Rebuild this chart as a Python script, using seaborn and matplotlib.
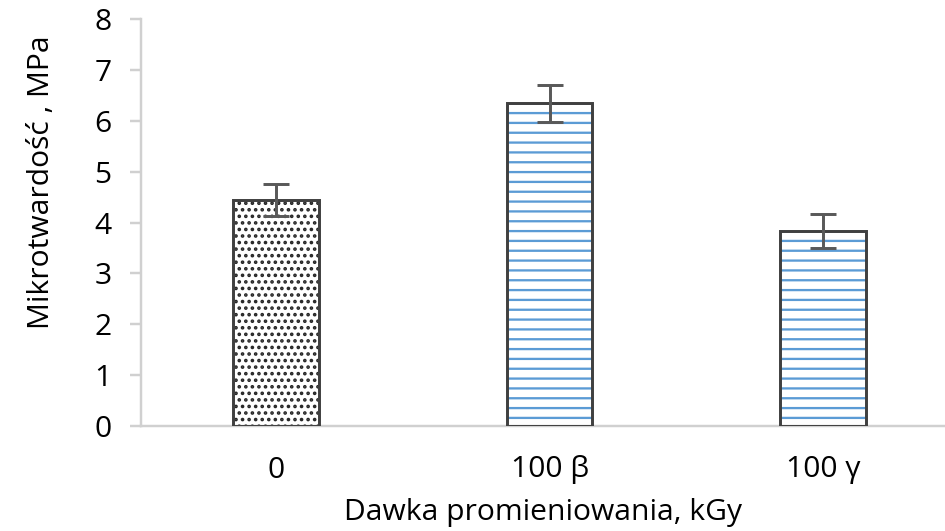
import matplotlib
matplotlib.use("Agg")
import matplotlib.pyplot as plt
import seaborn as sns
import pandas as pd
import numpy as np

categories = ["0", "100 β", "100 γ"]
values = [4.44, 6.34, 3.83]
errors = [0.31, 0.36, 0.33]
y_ticks = [0, 1, 2, 3, 4, 5, 6, 7, 8]
xlabel = "Dawka promieniowania, kGy"
ylabel = "Mikrotwardość , MPa"

hatches = ["...", "--", "--"]
hatch_colors = ["#262626", "#5B9BD5", "#5B9BD5"]

sns.set_theme(style="white")
plt.rcParams["font.family"] = ["Open Sans", "DejaVu Sans"]
plt.rcParams["hatch.linewidth"] = 1.4

DPI = 118
FS = 18.3
fig = plt.figure(figsize=(945 / DPI, 531 / DPI), dpi=DPI)
ax = fig.add_axes([141 / 945, 1 - 426 / 531, 1 - 141 / 945, (426 - 19) / 531])

df = pd.DataFrame({"cat": categories, "val": values})
width = 0.314
sns.barplot(data=df, x="cat", y="val", ax=ax, width=width, color="white",
            saturation=1, errorbar=None)

for patch, h, hc in zip(ax.patches, hatches, hatch_colors):
    patch.set_facecolor("white")
    patch.set_edgecolor(hc)
    patch.set_hatch(h)
    patch.set_linewidth(0)

xs = np.arange(len(categories))
ax.bar(xs, values, width=width, fill=False, edgecolor="#404040", linewidth=1.8, zorder=3)
ax.errorbar(xs, values, yerr=errors, fmt="none", ecolor="#595959", elinewidth=1.8,
            capsize=8, capthick=1.8, zorder=4)

ax.set_xlim(-0.494, 2.446)
ax.set_ylim(0, 8)
ax.set_yticks(y_ticks)
ax.set_yticklabels([str(t) for t in y_ticks])

for s in ["top", "right"]:
    ax.spines[s].set_visible(False)
for s in ["left", "bottom"]:
    ax.spines[s].set_color("#d0d0d0")
    ax.spines[s].set_linewidth(1.5)

ax.tick_params(axis="y", which="major", left=True, length=7, width=1.5, color="#d0d0d0",
               labelsize=FS, labelcolor="#000000", pad=11)
ax.tick_params(axis="x", bottom=False, labelsize=FS, labelcolor="#000000", pad=12)

ax.set_xlabel(xlabel, fontsize=FS, color="#000000", labelpad=8)
ax.set_ylabel(ylabel, fontsize=FS, color="#000000")
ax.yaxis.set_label_coords(-0.106, 0.6)

fig.savefig("out.png", dpi=DPI)
